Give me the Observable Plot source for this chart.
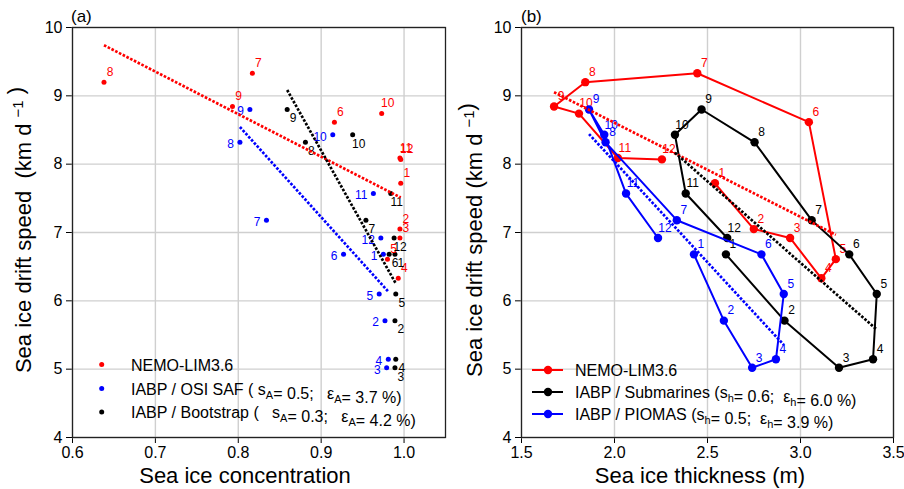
<!DOCTYPE html>
<html><head><meta charset="utf-8">
<script src="https://cdn.jsdelivr.net/npm/d3@7"></script>
<script src="https://cdn.jsdelivr.net/npm/@observablehq/plot@0.6"></script>
<style>
body{margin:0;background:#fff;}
#wrap{display:flex;width:904px;height:489px;overflow:hidden;}
#wrap svg{display:block;flex:none;max-width:none;}
</style></head><body><div id="wrap"></div>
<script>
// ---- data ----
const months = [1,2,3,4,5,6,7,8,9,10,11,12];
const speedNemo = [7.72, 7.05, 6.92, 6.33, 6.61, 8.615, 9.33, 9.20, 8.845, 8.74, 8.09, 8.07];
const speedIabp = [6.68, 5.71, 5.02, 5.145, 6.10, 6.68, 7.18, 8.32, 8.80, 8.43, 7.57, 6.92];
const sicNemo = [0.996, 0.995, 0.995, 0.993, 0.980, 0.916, 0.817, 0.638, 0.793, 0.973, 0.995, 0.996];
const sicOsiSaf = [0.975, 0.977, 0.979, 0.981, 0.970, 0.927, 0.834, 0.802, 0.814, 0.914, 0.963, 0.972];
const sicBootstrap = [0.989, 0.989, 0.989, 0.990, 0.990, 0.982, 0.954, 0.881, 0.859, 0.938, 0.984, 0.988];
const thickNemo = [2.54, 2.749, 2.944, 3.112, 3.19, 3.045, 2.445, 1.843, 1.675, 1.809, 2.018, 2.255];
const thickSubmarines = [2.599, 2.914, 3.207, 3.39, 3.41, 3.262, 3.06, 2.753, 2.468, 2.325, 2.383, 2.606];
const thickPiomas = [2.427, 2.588, 2.74, 2.868, 2.91, 2.79, 2.335, 1.952, 1.863, 1.945, 2.062, 2.234];
const sicTicks = [0.6, 0.7, 0.8, 0.9, 1.0];
const thickTicks = [1.5, 2.0, 2.5, 3.0, 3.5];
const speedTicks = [4, 5, 6, 7, 8, 9, 10];
const seriesColors = {nemo: "#ff0000", a: "#0000ff", b: "#000000"};
// legend texts: [text, kind] (1 = subscript)
const legendA = [
  {color: seriesColors.nemo, parts: [["NEMO-LIM3.6", 0]]},
  {color: seriesColors.a, parts: [["IABP / OSI SAF ( s", 0], ["A", 1], ["= 0.5;   \u03B5", 0], ["A", 1], ["= 3.7 %)", 0]]},
  {color: seriesColors.b, parts: [["IABP / Bootstrap (   s", 0], ["A", 1], ["= 0.3;   \u03B5", 0], ["A", 1], ["= 4.2 %)", 0]]}
];
const legendB = [
  {color: seriesColors.nemo, parts: [["NEMO-LIM3.6", 0]]},
  {color: seriesColors.b, parts: [["IABP / Submarines (s", 0], ["h", 1], ["= 0.6;  \u03B5", 0], ["h", 1], ["= 6.0 %)", 0]]},
  {color: seriesColors.a, parts: [["IABP / PIOMAS (s", 0], ["h", 1], ["= 0.5;  \u03B5", 0], ["h", 1], ["= 3.9 %)", 0]]}
];

const rows = (xs, ys) => months.map((m, i) => ({month: m, x: xs[i], y: ys[i]}));
const FONT = "Liberation Sans, Arial, Helvetica, sans-serif";

function panel({xDomain, xTicks, width, marginLeft, marginRight, marks}) {
  return Plot.plot({
    width, height: 489, marginLeft, marginRight, marginTop: 27, marginBottom: 52,
    style: {fontFamily: FONT, fontSize: "16px", color: "#000", background: "white", overflow: "visible"},
    x: {domain: xDomain, ticks: xTicks, tickFormat: d => d.toFixed(1), tickSize: 6, tickPadding: 3, label: null},
    y: {domain: [4, 10], ticks: speedTicks, tickFormat: d => String(d), tickSize: 6, tickPadding: 4, label: null},
    marks: [
      Plot.ruleX(xTicks, {stroke: "#cfcfcf", strokeWidth: 1.4}),
      Plot.ruleY(speedTicks, {stroke: "#cfcfcf", strokeWidth: 1.4}),
      ...marks,
      Plot.frame({stroke: "#222", strokeWidth: 1.3})
    ]
  });
}

const DASH = "2.6,1.6";
const dash = {strokeWidth: 2.7, strokeDasharray: DASH, strokeLinecap: "butt", ci: 0};

// ---- panel (a) ----
const aN = rows(sicNemo, speedNemo), aA = rows(sicOsiSaf, speedIabp), aB = rows(sicBootstrap, speedIabp);
const svgA = panel({
  xDomain: [0.6, 1.05], xTicks: sicTicks, width: 452, marginLeft: 72, marginRight: 7,
  marks: [
    Plot.dot(aN, {x: "x", y: "y", r: 2.5, fill: seriesColors.nemo}),
    Plot.dot(aA, {x: "x", y: "y", r: 2.5, fill: seriesColors.a}),
    Plot.dot(aB, {x: "x", y: "y", r: 2.5, fill: seriesColors.b}),
    Plot.text(aN, {x: "x", y: "y", text: d => String(d.month), fill: seriesColors.nemo, dx: 6, dy: -10, fontSize: 12}),
    Plot.text(aA, {x: "x", y: "y", text: d => String(d.month), fill: seriesColors.a, dx: -6, dy: 2, textAnchor: "end", fontSize: 12}),
    Plot.text(aB, {x: "x", y: "y", text: d => String(d.month), fill: seriesColors.b, dx: 6, dy: 9, fontSize: 12}),
    Plot.linearRegressionY(aN, {x: "x", y: "y", stroke: seriesColors.nemo, ...dash}),
    Plot.linearRegressionY(aA, {x: "x", y: "y", stroke: seriesColors.a, ...dash}),
    Plot.linearRegressionY(aB, {x: "x", y: "y", stroke: seriesColors.b, ...dash})
  ]
});

// ---- panel (b) ----
const bN = rows(thickNemo, speedNemo), bS = rows(thickSubmarines, speedIabp), bP = rows(thickPiomas, speedIabp);
const lineMarks = (data, color) => [
  Plot.line(data, {x: "x", y: "y", stroke: color, strokeWidth: 2}),
  Plot.dot(data, {x: "x", y: "y", r: 4.2, fill: color}),
  Plot.text(data, {x: "x", y: "y", text: d => String(d.month), fill: color, dx: 7, dy: -10, fontSize: 12})
];
const svgB = panel({
  xDomain: [1.5, 3.5], xTicks: thickTicks, width: 452, marginLeft: 69, marginRight: 11,
  marks: [
    ...lineMarks(bN, seriesColors.nemo),
    ...lineMarks(bS, seriesColors.b),
    ...lineMarks(bP, seriesColors.a),
    Plot.linearRegressionY(bN, {x: "x", y: "y", stroke: seriesColors.nemo, ...dash}),
    Plot.linearRegressionY(bS, {x: "x", y: "y", stroke: seriesColors.b, ...dash}),
    Plot.linearRegressionY(bP, {x: "x", y: "y", stroke: seriesColors.a, ...dash})
  ]
});

// make sure the regression lines are dotted with square ends
[svgA, svgB].forEach(svg => {
  d3.select(svg).selectAll('[aria-label="linear-regression"]').attr("stroke-linecap", "butt");
  d3.select(svg).selectAll('[aria-label="linear-regression"] path')
    .attr("stroke-dasharray", DASH).attr("stroke-width", 2.7)
    .attr("stroke-linecap", "butt").attr("fill", "none");
});

// ---- annotations ----
function addText(sel, parts, subSize) {
  parts.forEach(([t, kind]) => {
    if (kind === 1) {
      sel.append("tspan").attr("font-size", subSize).attr("dy", 4).text(t);
      sel.append("tspan").attr("dy", -4).text("");
    } else if (kind === 2) {
      sel.append("tspan").attr("font-size", subSize).attr("dy", -8).text(t);
      sel.append("tspan").attr("dy", 8).text("");
    } else {
      sel.append("tspan").text(t);
    }
  });
}
function decorate(svg, o) {
  const g = d3.select(svg).append("g").attr("font-family", FONT).attr("fill", "#000")
    .attr("text-anchor", "start").style("white-space", "pre");
  g.append("text").attr("x", o.panelX).attr("y", 22).attr("font-size", 17).attr("text-anchor", "start").text(o.panelLabel);
  g.append("text").attr("x", o.xTitleX).attr("y", 483).attr("font-size", 22).attr("text-anchor", "middle").text(o.xTitle);
  const yt = g.append("text").attr("transform", `translate(${o.yTitleX},${o.yTitleY}) rotate(-90)`)
    .attr("font-size", 22).attr("text-anchor", "middle");
  addText(yt, o.yTitle, 15);
  o.legend.forEach((item, i) => {
    const y = o.legendY[i];
    if (o.lines) {
      g.append("line").attr("x1", o.lx1).attr("x2", o.lx2).attr("y1", y).attr("y2", y)
        .attr("stroke", item.color).attr("stroke-width", 2);
      g.append("circle").attr("cx", o.mx).attr("cy", y).attr("r", 4.2).attr("fill", item.color);
    } else {
      g.append("circle").attr("cx", o.mx).attr("cy", y).attr("r", 2.5).attr("fill", item.color);
    }
    const t = g.append("text").attr("x", o.tx).attr("y", y + 6).attr("font-size", 16).attr("text-anchor", "start");
    addText(t, item.parts, 11);
  });
}
decorate(svgA, {
  panelLabel: "(a)", panelX: 71, xTitle: "Sea ice concentration", xTitleX: 245,
  yTitle: [["Sea ice drift speed  (km d ", 0], ["\u22121", 2], [" )", 0]], yTitleX: 31, yTitleY: 230,
  legend: legendA, legendY: [364.5, 388.5, 412], lines: false, mx: 101.7, tx: 131
});
decorate(svgB, {
  panelLabel: "(b)", panelX: 69, xTitle: "Sea ice thickness (m)", xTitleX: 248,
  yTitle: [["Sea ice drift speed (km d ", 0], ["\u22121", 2], [")", 0]], yTitleX: 29.5, yTitleY: 240,
  legend: legendB, legendY: [370, 392, 414], lines: true, lx1: 80, lx2: 111, mx: 96, tx: 123
});

const wrap = document.getElementById("wrap");
wrap.appendChild(svgA);
wrap.appendChild(svgB);
</script>
</body></html>
